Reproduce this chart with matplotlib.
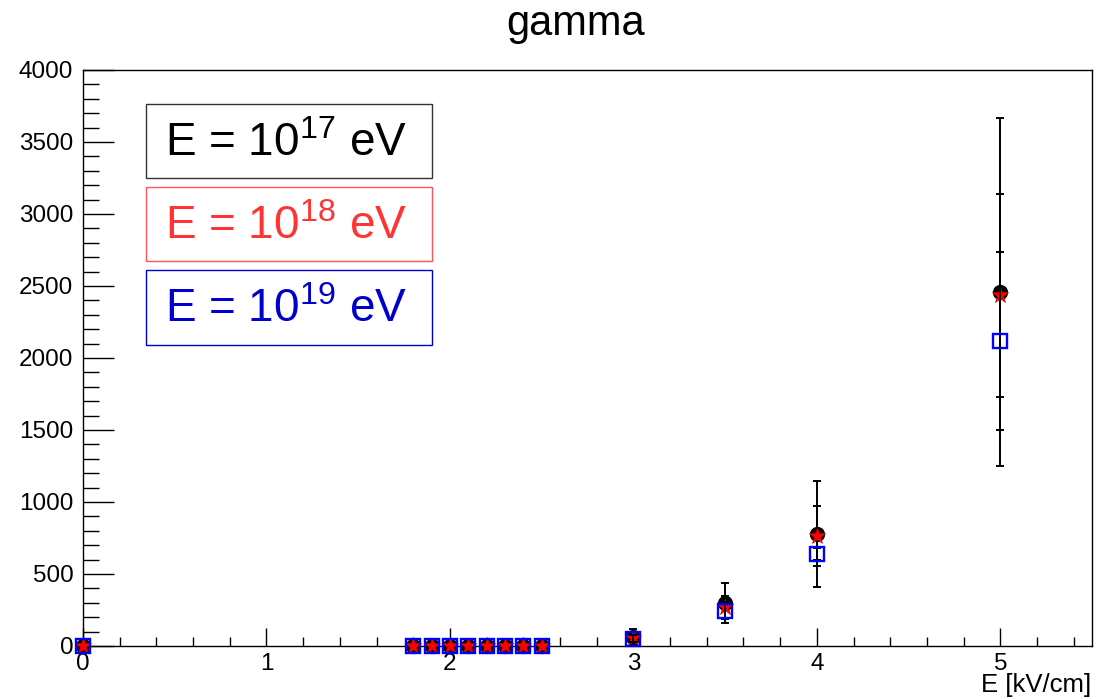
import numpy as np
import matplotlib
matplotlib.use("Agg")
import matplotlib.pyplot as plt
from matplotlib.patches import Rectangle
from matplotlib.ticker import MultipleLocator

plt.rcParams['font.family'] = ['Liberation Sans', 'DejaVu Sans']
plt.rcParams['mathtext.fontset'] = 'custom'
plt.rcParams['mathtext.rm'] = 'Liberation Sans'

# Drift field values [kV/cm]
field = [0.0, 1.8, 1.9, 2.0, 2.1, 2.2, 2.3, 2.4, 2.5, 3.0, 3.5, 4.0, 5.0]

# gamma counts per primary energy, with errors
y_e17 = [0, 0, 0, 0, 0, 0, 0, 0, 0, 60, 298, 778, 2458]
err_e17 = [0, 0, 0, 0, 0, 0, 0, 0, 0, 55, 139, 370, 1208]

y_e18 = [0, 0, 0, 0, 0, 0, 0, 0, 0, 55, 272, 764, 2437]
err_e18 = [0, 0, 0, 0, 0, 0, 0, 0, 0, 30, 75, 208, 705]

y_e19 = [0, 0, 0, 0, 0, 0, 0, 0, 0, 50, 245, 639, 2118]
err_e19 = [0, 0, 0, 0, 0, 0, 0, 0, 0, 25, 60, 40, 615]

labels = ["E = 10$\\mathregular{^{17}}$ eV",
          "E = 10$\\mathregular{^{18}}$ eV",
          "E = 10$\\mathregular{^{19}}$ eV"]

W, H = 1098, 699
fig = plt.figure(figsize=(W / 100, H / 100), dpi=100)
ax = fig.add_axes([83 / W, 1 - 646 / H, (1092 - 83) / W, (646 - 70) / H])


def draw_graph(x, y, e, **mk):
    x = np.asarray(x, float)
    y = np.asarray(y, float)
    e = np.asarray(e, float)
    m = e > 0
    ax.errorbar(x[m], y[m], yerr=e[m], fmt='none', ecolor='black',
                elinewidth=1.4, capsize=2.6, capthick=1.4, clip_on=False,
                zorder=mk.get('zorder', 3) - 0.5)
    ax.plot(x, y, linestyle='none', clip_on=False, **mk)


draw_graph(field, y_e17, err_e17, marker='o', markersize=10,
           color='black', zorder=3)
draw_graph(field, y_e18, err_e18, marker='*', markersize=12,
           color='#ff0000', markeredgecolor='#cc0000', markeredgewidth=0.5,
           zorder=4)
draw_graph(field, y_e19, err_e19, marker='s', markersize=10,
           markerfacecolor='none', markeredgecolor='#0000ff',
           markeredgewidth=1.7, zorder=5)

ax.set_xlim(0, 5.5)
ax.set_ylim(0, 4000)
ax.xaxis.set_major_locator(MultipleLocator(1))
ax.xaxis.set_minor_locator(MultipleLocator(0.2))
ax.yaxis.set_major_locator(MultipleLocator(500))
ax.yaxis.set_minor_locator(MultipleLocator(100))
ax.tick_params(which='both', direction='in', top=False, right=False,
               labelsize=17.5, width=1)
ax.tick_params(axis='y', which='major', length=22, pad=7)
ax.tick_params(axis='y', which='minor', length=11.5)
ax.tick_params(axis='x', which='major', length=13, pad=5)
ax.tick_params(axis='x', which='minor', length=6.5)
for s in ax.spines.values():
    s.set_linewidth(1)

fig.text(576 / W, 1 - 24 / H, "gamma", fontsize=30, ha='center', va='center')
fig.text(1091 / W, 1 - 685 / H, "E [kV/cm]", fontsize=18.5,
         ha='right', va='center')

# Energy labels, one framed box each
boxes = [(104, 178), (187, 261), (270, 345)]
text_colors = ['black', '#ff3333', '#0000cc']
edge_colors = ['#333333', '#ff5555', '#0000cc']
x0, x1 = 146, 432
for (top, bot), lab, tc, ec in zip(boxes, labels, text_colors, edge_colors):
    fig.add_artist(Rectangle((x0 / W, 1 - bot / H), (x1 - x0) / W,
                             (bot - top) / H, transform=fig.transFigure,
                             facecolor='white', edgecolor=ec, linewidth=1,
                             zorder=10))
    fig.text(165 / W, 1 - ((top + bot) / 2 + 3) / H, lab, fontsize=33,
             color=tc, ha='left', va='center', zorder=11)

fig.savefig("out.png", dpi=100)
